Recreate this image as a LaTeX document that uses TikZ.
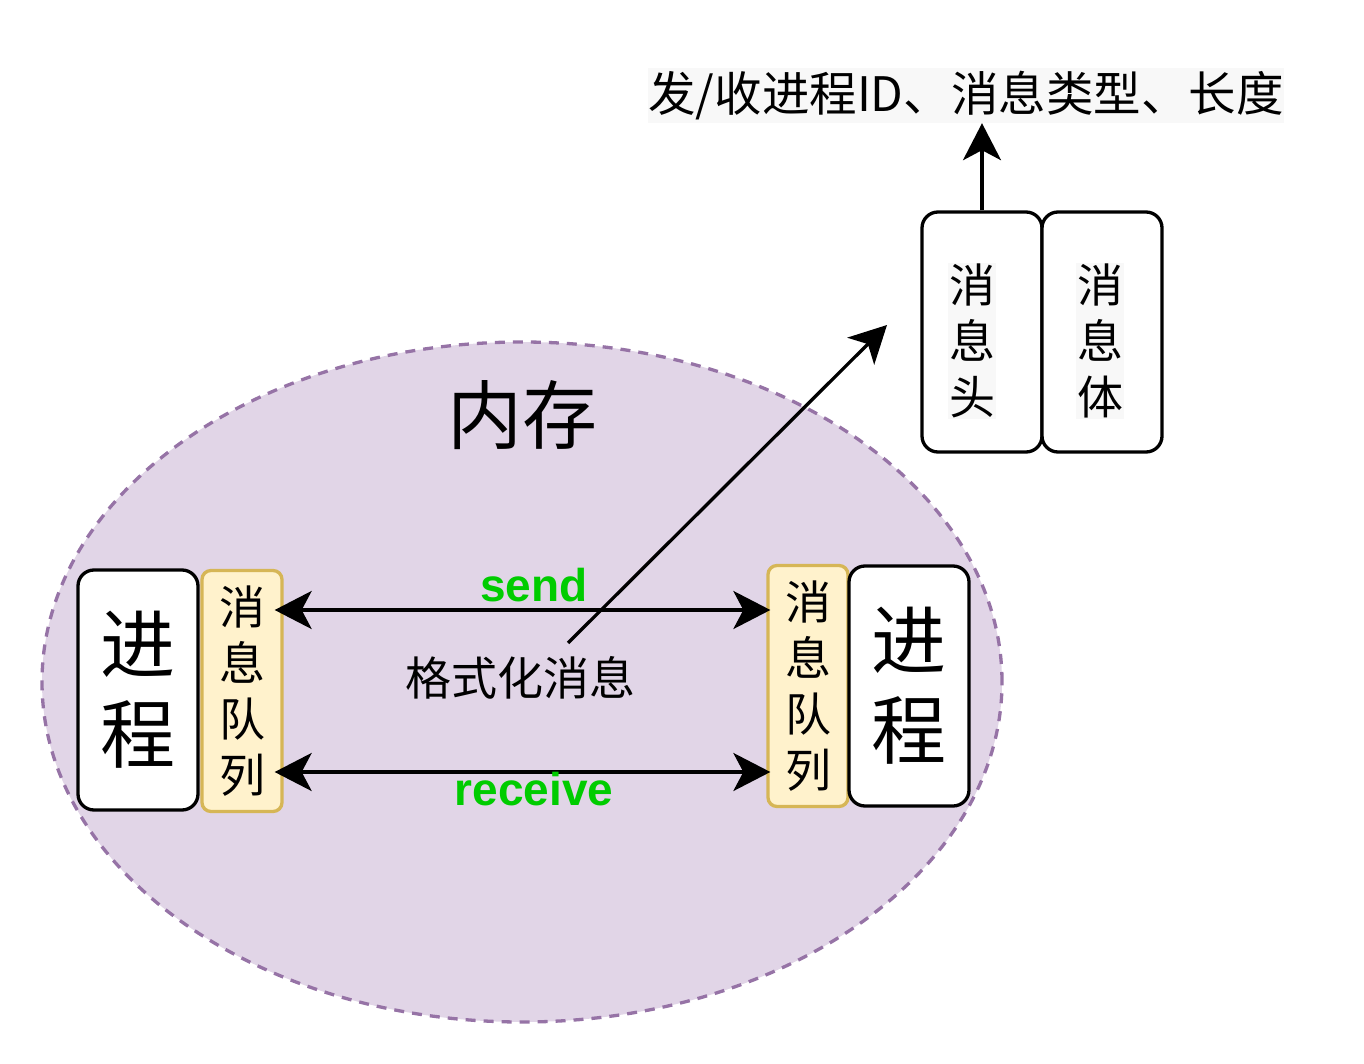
\documentclass[tikz,border=0pt]{standalone}
\usepackage{fontspec}
\setmainfont{Noto Sans CJK SC}
\newfontfamily\latinbold{Liberation Sans}
\usetikzlibrary{arrows.meta,calc,shapes.geometric}
\definecolor{memfill}{HTML}{E1D5E7}
\definecolor{memline}{HTML}{9673A6}
\definecolor{qfill}{HTML}{FFF2CC}
\definecolor{qline}{HTML}{D6B656}
\definecolor{sgreen}{HTML}{00CC00}
\definecolor{lblbg}{HTML}{F8F8F8}
\tikzset{
  procbox/.style={draw=black, line width=3.3pt, fill=white, rounded corners=16pt,
    minimum width=120pt, minimum height=240pt, inner sep=0pt, align=center,
    font=\fontsize{75}{90}\selectfont},
  qbox/.style={draw=qline, line width=3.3pt, fill=qfill, rounded corners=9pt,
    minimum width=80pt, minimum height=241pt, inner sep=0pt, align=center,
    font=\fontsize{46}{56}\selectfont},
  msgbox/.style={draw=black, line width=3.3pt, fill=white, rounded corners=16pt,
    minimum width=120pt, minimum height=240pt, inner sep=0pt},
  vtext/.style={align=center, fill=lblbg, inner sep=1pt, font=\fontsize{46}{56}\selectfont},
  conn/.style={line width=3.3pt, draw=black},
  onetip/.style={-{Stealth[length=37pt,width=38pt,inset=10pt]}},
  twotips/.style={{Stealth[length=37pt,width=38pt,inset=10pt]}-{Stealth[length=37pt,width=38pt,inset=10pt]}},
  glabel/.style={text=sgreen, font=\latinbold\bfseries\fontsize{46}{55}\selectfont, inner sep=0pt},
}
\begin{document}
\begin{tikzpicture}[x=1pt,y=-1pt]
\useasboundingbox (0,0) rectangle (1364,1064);
% memory ellipse
\node (mem) [ellipse, draw=memline, fill=memfill, line width=3.3pt, dash pattern=on 10pt off 8pt,
  minimum width=960pt, minimum height=680pt, inner sep=0pt] at (522,682) {};
\node (memlbl) [font=\fontsize{75}{90}\selectfont, inner sep=0pt] at (522,415) {内存};
% processes and queues
\node (lp) [procbox] at (138,690) {进\\程};
\node (lq) [qbox] at (242,691) {消\\息\\队\\列};
\node (rq) [qbox] at (808,686) {消\\息\\队\\列};
\node (rp) [procbox] at (909,686) {进\\程};
% send / receive levels
\coordinate (sendy) at (0,610);
\coordinate (recvy) at (0,772);
\draw [conn, twotips, shorten <=-9pt, shorten >=-4pt] (lq.east |- sendy) -- (rq.west |- sendy);
\draw [conn, twotips, shorten <=-9pt, shorten >=-4pt] (lq.east |- recvy) -- (rq.west |- recvy);
\node (send) [glabel] at (534,585) {send};
\node (recv) [glabel] at (534,789) {receive};
\node (fmt) [font=\fontsize{46}{55}\selectfont, inner sep=0pt] at (520,678) {格式化消息};
% message boxes
\node (hd) [msgbox] at (982,332) {};
\node (bd) [msgbox] at (1102,332) {};
\node (hdt) [vtext] at (972,341) {消\\息\\头};
\node (bdt) [vtext] at (1100,341) {消\\息\\体};
% top label
\node (top) [fill=lblbg, minimum width=636pt, minimum height=55pt, inner sep=0pt,
  font=\fontsize{47.5}{55}\selectfont] at (966,95.5) {发/收进程ID、消息类型、长度};
% arrows
\coordinate (dstart) at (568,643);
\coordinate (dend) at (887,325);
\draw [conn, onetip] (dstart) -- (dend);
\draw [conn, onetip] (hd.north) -- (top.south -| hd.north);
\end{tikzpicture}
\end{document}
